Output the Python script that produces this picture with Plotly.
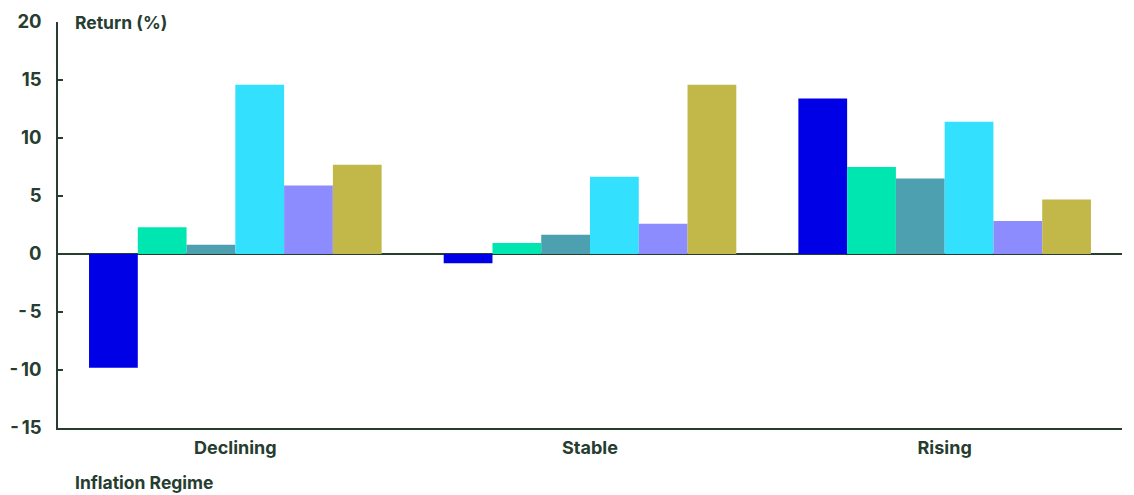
import plotly.graph_objects as go

categories = ["Declining", "Stable", "Rising"]
series_names = ["Series 1", "Series 2", "Series 3", "Series 4", "Series 5", "Series 6"]
values_s1 = [-9.8, -0.8, 13.4]
values_s2 = [2.3, 0.95, 7.5]
values_s3 = [0.8, 1.65, 6.5]
values_s4 = [14.6, 6.65, 11.4]
values_s5 = [5.9, 2.6, 2.85]
values_s6 = [7.7, 14.6, 4.7]
colors = ["#0000E6", "#00E6B0", "#4DA0AF", "#33E1FF", "#8C8CFF", "#C2B84A"]
y_ticks = [-15, -10, -5, 0, 5, 10, 15, 20]
y_tick_labels = ["-\u200915", "-\u200910", "-\u20095", "0", "5", "10", "15", "20"]

TEXT = "#263d2f"
FONT = "Inter"

fig = go.Figure()
for name, vals, c in zip(series_names,
                         [values_s1, values_s2, values_s3, values_s4, values_s5, values_s6],
                         colors):
    fig.add_trace(go.Bar(x=categories, y=vals, name=name, marker=dict(color=c, line=dict(width=0))))

fig.update_layout(
    width=1126, height=487,
    margin=dict(l=50, r=12, t=14, b=67, autoexpand=False),
    paper_bgcolor="white", plot_bgcolor="white",
    barmode="group", bargap=0.175, bargroupgap=0,
    showlegend=False,
    font=dict(family=FONT, color=TEXT, size=17),
)
fig.update_yaxes(
    range=[-15, 20], tickvals=y_ticks, ticktext=y_tick_labels,
    showgrid=False, showline=True, linecolor=TEXT, linewidth=1.5,
    ticks="inside", ticklen=5, tickcolor=TEXT, tickwidth=1.5,
    zeroline=True, zerolinecolor=TEXT, zerolinewidth=2,
    tickfont=dict(family=FONT, size=18.5, color=TEXT, weight=700),
    ticklabelstandoff=11, automargin=False,
)
fig.update_xaxes(
    showgrid=False, showline=True, linecolor=TEXT, linewidth=1.5,
    ticks="", tickfont=dict(family=FONT, size=18, color=TEXT, weight=700),
    ticklabelstandoff=3, automargin=False,
)
fig.add_annotation(text="Return (%)", xref="paper", yref="paper", x=0.014, y=1.0,
                   xanchor="left", yanchor="middle", showarrow=False,
                   font=dict(family=FONT, size=17.5, color=TEXT, weight=700))
fig.add_annotation(text="Inflation Regime", xref="paper", yref="paper", x=0.014, y=-0.135,
                   xanchor="left", yanchor="middle", showarrow=False,
                   font=dict(family=FONT, size=17.5, color=TEXT, weight=700))

fig.write_html("out.html")
